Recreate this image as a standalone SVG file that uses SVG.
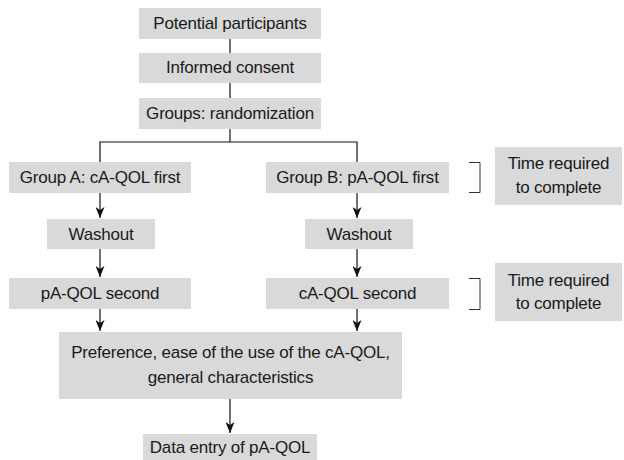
<svg xmlns="http://www.w3.org/2000/svg" width="624" height="460" viewBox="0 0 624 460">
<defs>
<marker id="arr" markerUnits="userSpaceOnUse" markerWidth="11" markerHeight="9" viewBox="0 0 11 9" refX="11" refY="4.5" orient="auto">
<path d="M0,0 L11,4.5 L0,9 L3,4.5 Z" fill="#111"/>
</marker>
<style>
.box{fill:#d9d9d9;stroke:none}
.t{font-family:"Liberation Sans",Arial,Helvetica,sans-serif;font-size:17px;fill:#1a1a1a;text-anchor:middle;letter-spacing:-0.2px}
.ln{stroke:#111;stroke-width:1.2;fill:none}
.ar{stroke:#111;stroke-width:1.2;fill:none}
.br{stroke:#333;stroke-width:1;fill:none}
</style>
</defs>
<rect width="624" height="460" fill="#fff"/>
<g id="connectors">
<line class="ln" x1="230" y1="39" x2="230" y2="53"/>
<line class="ln" x1="230" y1="83" x2="230" y2="98"/>
<polyline class="ln" points="230,129 230,142"/>
<polyline class="ln" points="100,162 100,142 357,142 357,162"/>
<path class="ar" d="M100,193 V218" marker-end="url(#arr)"/>
<path class="ar" d="M100,249 V277" marker-end="url(#arr)"/>
<path class="ar" d="M100,309 V331" marker-end="url(#arr)"/>
<path class="ar" d="M357,193 V218" marker-end="url(#arr)"/>
<path class="ar" d="M357,249 V277" marker-end="url(#arr)"/>
<path class="ar" d="M357,309 V331" marker-end="url(#arr)"/>
<path class="ar" d="M230,399 V433" marker-end="url(#arr)"/>
<polyline class="br" points="469,162.5 480,162.5 480,192.5 469,192.5"/>
<polyline class="br" points="469,278.5 480,278.5 480,309.5 469,309.5"/>
</g>
<g id="n-potential"><rect class="box" x="139" y="8" width="182" height="31"/><text class="t" x="230" y="28.5">Potential participants</text></g>
<g id="n-consent"><rect class="box" x="139" y="53" width="182" height="30"/><text class="t" x="230" y="73">Informed consent</text></g>
<g id="n-random"><rect class="box" x="139" y="98" width="182" height="31"/><text class="t" x="230" y="118.5">Groups: randomization</text></g>
<g id="n-groupA"><rect class="box" x="9" y="162" width="182" height="31"/><text class="t" x="100" y="182.5">Group A: cA-QOL first</text></g>
<g id="n-washA"><rect class="box" x="47" y="219" width="108" height="30"/><text class="t" x="101" y="239.5">Washout</text></g>
<g id="n-pAsecond"><rect class="box" x="9" y="278" width="182" height="31"/><text class="t" x="100" y="298.5">pA-QOL second</text></g>
<g id="n-groupB"><rect class="box" x="266" y="162" width="183" height="31"/><text class="t" x="357.5" y="182.5">Group B: pA-QOL first</text></g>
<g id="n-washB"><rect class="box" x="305" y="219" width="108" height="30"/><text class="t" x="359" y="239.5">Washout</text></g>
<g id="n-cAsecond"><rect class="box" x="266" y="278" width="183" height="31"/><text class="t" x="357.5" y="298.5">cA-QOL second</text></g>
<g id="n-time1"><rect class="box" x="495" y="147" width="127" height="58"/><text class="t" x="558.5" y="169">Time required</text><text class="t" x="558.5" y="193">to complete</text></g>
<g id="n-time2"><rect class="box" x="495" y="263" width="127" height="58"/><text class="t" x="558.5" y="286">Time required</text><text class="t" x="558.5" y="309">to complete</text></g>
<g id="n-pref"><rect class="box" x="59" y="332" width="343" height="67"/><text class="t" x="230.5" y="358">Preference, ease of the use of the cA-QOL,</text><text class="t" x="230.5" y="383">general characteristics</text></g>
<g id="n-data"><rect class="box" x="143" y="434" width="174" height="27"/><text class="t" x="230" y="453">Data entry of pA-QOL</text></g>
</svg>
